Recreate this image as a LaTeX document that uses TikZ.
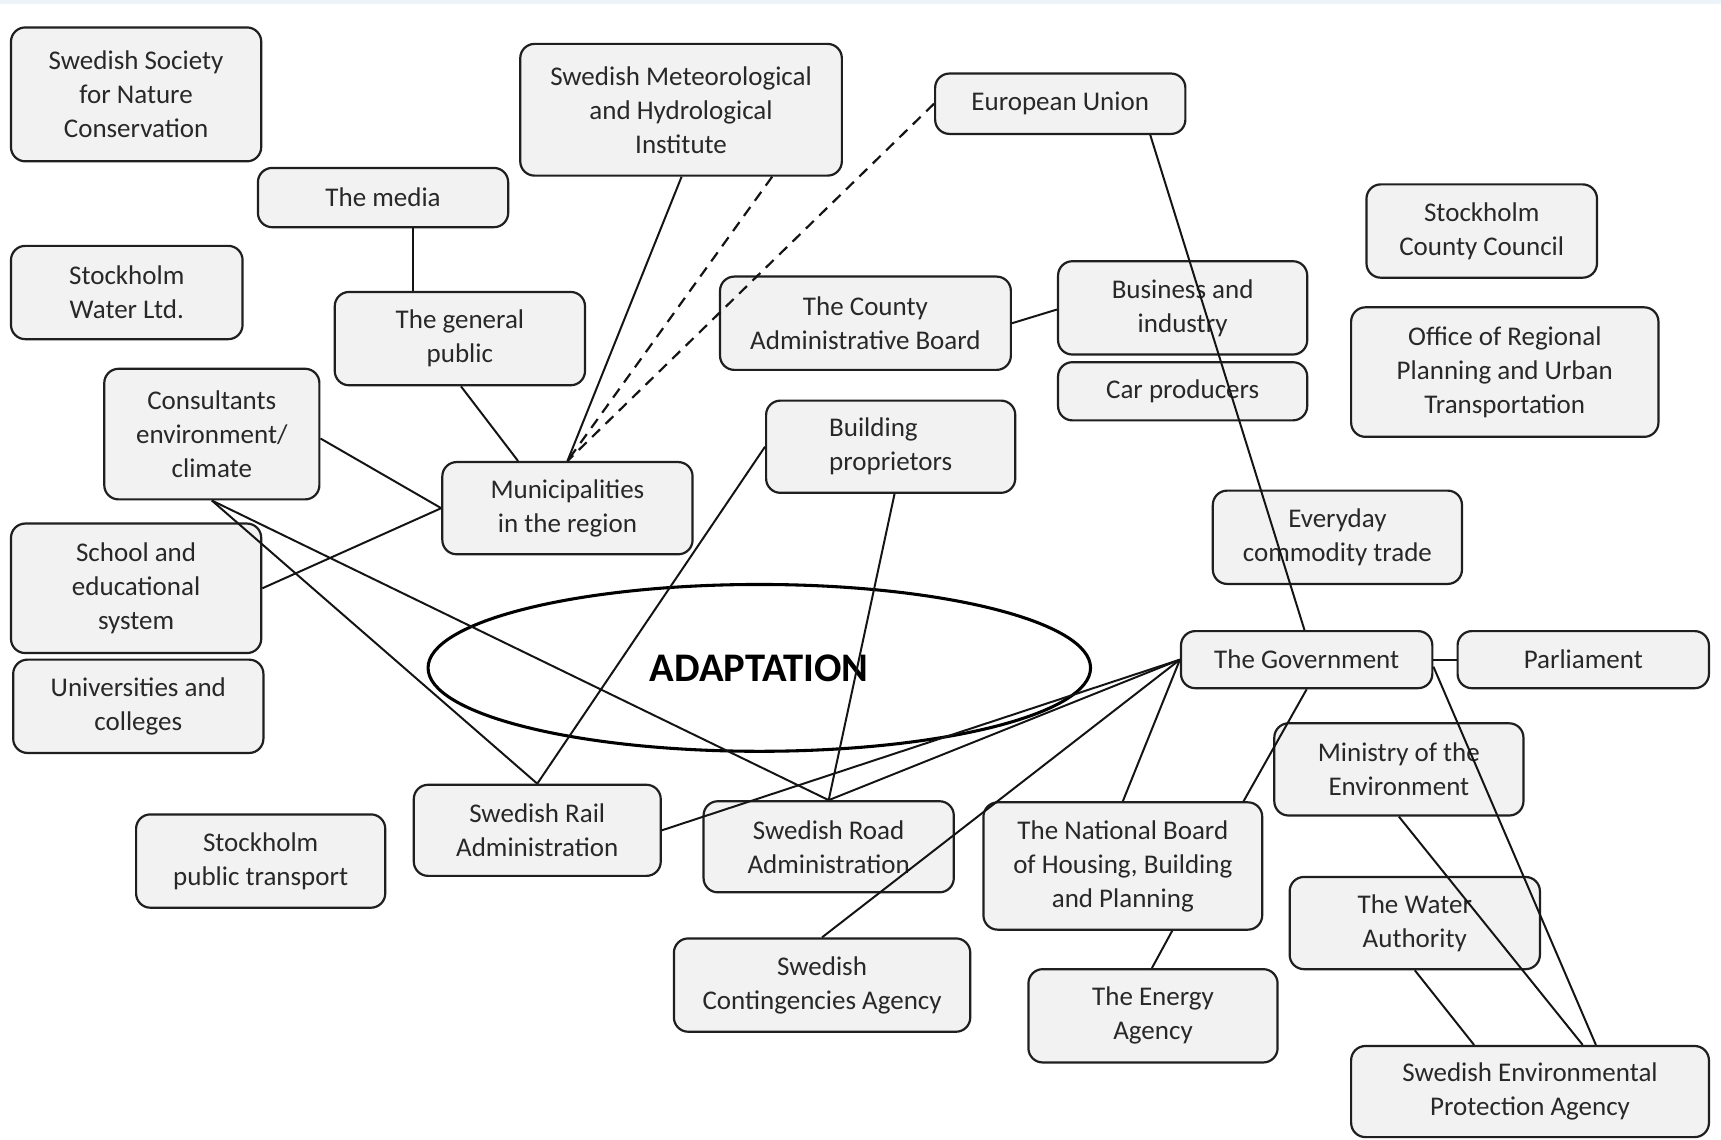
\documentclass[tikz,border=0pt]{standalone}
\usepackage{fontspec}
\setmainfont{Carlito}
\usetikzlibrary{shapes.geometric}
\definecolor{boxfill}{RGB}{242,242,242}
\definecolor{topband}{RGB}{236,244,249}
\definecolor{txt}{RGB}{40,40,40}
\newcommand\mkbox[7][]{\node[orgbox,#1, minimum width={(#5-#3)*0.5pt}, minimum height={(#6-#4)*0.5pt}] (#2) at ({(#3+#5)/2},{(#4+#6)/2}) {#7};}
\begin{document}
\begin{tikzpicture}[x=0.5pt,y=-0.5pt,
  orgbox/.style={draw=black!88, line width=1pt, fill=boxfill, rounded corners=6.5pt, align=center, inner sep=2pt, text=txt, font=\fontsize{12.3}{15.5}\selectfont},
  conn/.style={line width=0.9pt, black!92},
  dconn/.style={conn, line width=1pt, dash pattern=on 5pt off 3.5pt}]
\fill[white] (0,0) rectangle (1568,1038);
\fill[topband] (0,0) rectangle (1568,4);
\useasboundingbox (0,0) rectangle (1568,1038);

\mkbox{ssnc}{10}{25}{238}{147}{Swedish Society\\for Nature\\Conservation}
\mkbox{media}{235}{153}{463}{207}{The media}
\mkbox{water}{10}{224}{221}{309}{Stockholm\\Water Ltd.}
\mkbox{public}{305}{266}{533}{351}{The general\\public}
\mkbox{smhi}{474}{40}{767}{160}{Swedish Meteorological\\and Hydrological\\Institute}
\mkbox{eu}{852}{67}{1080}{122}{European Union}
\mkbox{cab}{656}{252}{921}{337}{The County\\Administrative Board}
\mkbox{bus}{964}{238}{1191}{323}{Business and\\industry}
\mkbox{car}{964}{330}{1191}{383}{Car producers}
\mkbox{scc}{1245}{168}{1455}{253}{Stockholm\\County Council}
\mkbox{orp}{1231}{280}{1511}{398}{Office of Regional\\Planning and Urban\\Transportation}
\mkbox{cons}{95}{336}{291}{455}{Consultants\\environment/\\climate}
\mkbox{muni}{403}{421}{631}{505}{Municipalities\\in the region}
\mkbox[align=left]{bp}{698}{365}{925}{449}{Building\\proprietors}
\mkbox{school}{10}{477}{238}{595}{School and\\educational\\system}
\mkbox{uni}{12}{601}{240}{686}{Universities and\\colleges}
\mkbox{edt}{1105}{447}{1332}{532}{Everyday\\commodity trade}
\mkbox{gov}{1076}{575}{1305}{627}{The Government}
\mkbox{parl}{1328}{575}{1557}{627}{Parliament}
\mkbox{min}{1161}{659}{1388}{743}{Ministry of the\\Environment}
\mkbox{rail}{377}{715}{602}{798}{Swedish Rail\\Administration}
\mkbox{road}{641}{730}{869}{813}{Swedish Road\\Administration}
\mkbox{spt}{124}{742}{351}{827}{Stockholm\\public transport}
\mkbox{nb}{896}{731}{1150}{847}{The National Board\\of Housing, Building\\and Planning}
\mkbox{wa}{1175}{799}{1403}{883}{The Water\\Authority}
\mkbox{sca}{614}{855}{884}{940}{Swedish\\Contingencies Agency}
\mkbox{ea}{937}{883}{1164}{968}{The Energy\\Agency}
\mkbox{epa}{1231}{953}{1557}{1036}{Swedish Environmental\\Protection Agency}

\node[ellipse, draw=black, line width=1.4pt, inner sep=0pt,
      minimum width=301.8pt, minimum height=76pt,
      font=\fontsize{18.5}{20}\selectfont\bfseries, text=black]
      (adapt) at (691.8,608.5) {\raisebox{-1.75pt}{ADAPTATION}};

\draw[conn] ([xshift=13.5pt]media.south) -- ([xshift=-21.5pt]public.north);
\draw[conn] ([xshift=0.5pt]public.south) -- ([xshift=-22.5pt]muni.north);
\draw[conn] ([xshift=0.25pt]smhi.south) -- (muni.north);
\draw[dconn] ([xshift=41.5pt]smhi.south) -- (muni.north);
\draw[dconn] (eu.west) -- (muni.north);
\draw[conn] ([yshift=-2pt]cons.east) -- (muni.west);
\draw[conn] (school.east) -- (muni.west);
\draw[conn] (cons.south) -- (rail.north);
\draw[conn] (cons.south) -- (road.north);
\draw[conn] (bp.west) -- (rail.north);
\draw[conn] ([xshift=1.75pt]bp.south) -- (road.north);
\draw[conn] (cab.east) -- ([yshift=-0.75pt]bus.west);
\draw[conn] ([xshift=41pt]eu.south) -- ([xshift=-1pt]gov.north);
\draw[conn] (gov.west) -- (rail.east);
\draw[conn] (gov.west) -- (road.north);
\draw[conn] (gov.west) -- (sca.north);
\draw[conn] (gov.west) -- (nb.north);
\draw[conn] (gov.south) -- ([xshift=55pt]nb.north);
\draw[conn] (gov.east) -- (parl.west);
\draw[conn] ([yshift=-3.2pt]gov.east) -- ([xshift=30pt]epa.north);
\draw[conn] (min.south) -- ([xshift=24pt]epa.north);
\draw[conn] (wa.south) -- ([xshift=-25.5pt]epa.north);
\draw[conn] ([xshift=22.5pt]nb.south) -- ([xshift=-0.5pt]ea.north);
\end{tikzpicture}
\end{document}
